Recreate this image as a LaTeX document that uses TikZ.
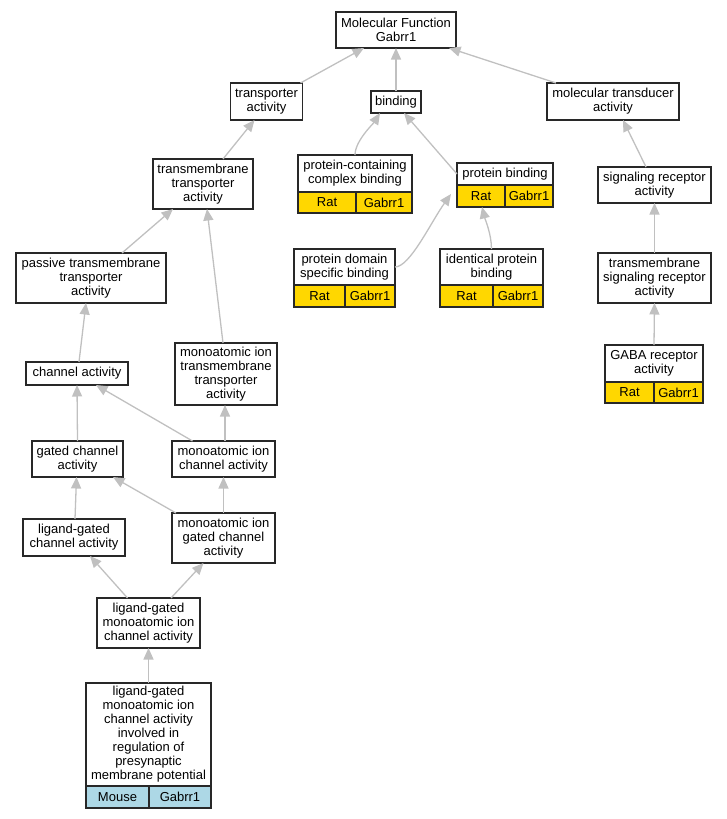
\documentclass[tikz,border=0pt]{standalone}
\usepackage{fontspec}
\setmainfont{Liberation Sans}
\usetikzlibrary{arrows.meta,calc}
\definecolor{edgegray}{RGB}{192,192,192}
\definecolor{gold}{RGB}{255,215,0}
\definecolor{lblue}{RGB}{173,216,230}
\definecolor{bord}{RGB}{40,40,40}
\begin{document}
\begin{tikzpicture}[x=1pt,y=-1pt,
  box/.style={draw=bord, line width=1.2pt, fill=white, align=center, inner sep=0pt, outer sep=0pt, font=\fontsize{13}{14}\selectfont},
  cell/.style={box, fill=gold},
  mcell/.style={box, fill=lblue},
  conn/.style={draw=edgegray, line width=1.3pt, -{Triangle[length=11.5pt,width=10pt]}},
]
\useasboundingbox (0,0) rectangle (727,819);

% nodes
\node[box, minimum width=120, minimum height=36] (mf) at (396,30) {Molecular Function\\Gabrr1};
\node[box, minimum width=72, minimum height=37] (ta) at (266.5,101.5) {transporter\\activity};
\node[box, minimum width=50, minimum height=22] (bind) at (396,102) {binding};
\node[box, minimum width=132, minimum height=37] (mta) at (613,101.5) {molecular transducer\\activity};

\node[box, minimum width=114, minimum height=37] (pccb) at (355,173.5) {protein-containing\\complex binding};
\node[cell, minimum width=58, minimum height=21, anchor=north west] (pccbs) at (pccb.south west) {Rat};
\node[cell, minimum width=56, minimum height=21, anchor=north east] (pccbg) at (pccb.south east) {Gabrr1};

\node[box, minimum width=96, minimum height=22] (pb) at (505,174) {protein binding};
\node[cell, minimum width=48, minimum height=22, anchor=north west] (pbs) at (pb.south west) {Rat};
\node[cell, minimum width=48, minimum height=22, anchor=north east] (pbg) at (pb.south east) {Gabrr1};

\node[box, minimum width=100, minimum height=50] (tta) at (203,184) {transmembrane\\transporter\\activity};
\node[box, minimum width=150, minimum height=50] (ptta) at (91,278) {passive transmembrane\\transporter\\activity};
\node[box, minimum width=102, minimum height=23] (ca) at (77,373.5) {channel activity};
\node[box, minimum width=102, minimum height=62] (mitta) at (226,374) {monoatomic ion\\transmembrane\\transporter\\activity};

\node[box, minimum width=101, minimum height=36] (pdsb) at (344.5,267) {protein domain\\specific binding};
\node[cell, minimum width=51, minimum height=22, anchor=north west] (pdsbs) at (pdsb.south west) {Rat};
\node[cell, minimum width=50, minimum height=22, anchor=north east] (pdsbg) at (pdsb.south east) {Gabrr1};

\node[box, minimum width=103, minimum height=36] (ipb) at (491.5,267) {identical protein\\binding};
\node[cell, minimum width=53, minimum height=22, anchor=north west] (ipbs) at (ipb.south west) {Rat};
\node[cell, minimum width=50, minimum height=22, anchor=north east] (ipbg) at (ipb.south east) {Gabrr1};

\node[box, minimum width=113, minimum height=36] (sra) at (654.5,185) {signaling receptor\\activity};
\node[box, minimum width=113, minimum height=50] (tsra) at (654.5,278) {transmembrane\\signaling receptor\\activity};
\node[box, minimum width=98, minimum height=37] (gaba) at (654,363.5) {GABA receptor\\activity};
\node[cell, minimum width=49, minimum height=21, anchor=north west] (gabas) at (gaba.south west) {Rat};
\node[cell, minimum width=49, minimum height=21, anchor=north east] (gabag) at (gaba.south east) {Gabrr1};

\node[box, minimum width=91, minimum height=36] (gca) at (77.5,459) {gated channel\\activity};
\node[box, minimum width=103, minimum height=36] (mica) at (223.5,459) {monoatomic ion\\channel activity};
\node[box, minimum width=102, minimum height=37] (lgca) at (74,537.5) {ligand-gated\\channel activity};
\node[box, minimum width=103, minimum height=50] (migca) at (223.5,538) {monoatomic ion\\gated channel\\activity};
\node[box, minimum width=103, minimum height=50] (lgmica) at (148.5,623) {ligand-gated\\monoatomic ion\\channel activity};

\node[box, minimum width=125, minimum height=103] (bot) at (148.5,734.5) {ligand-gated\\monoatomic ion\\channel activity\\involved in\\regulation of\\presynaptic\\membrane potential};
\node[mcell, minimum width=63, minimum height=22, anchor=north west] (bots) at (bot.south west) {Mouse};
\node[mcell, minimum width=62, minimum height=22, anchor=north east] (botg) at (bot.south east) {Gabrr1};

% connectors
\draw[conn] ($(ta.north east)+(-2,0)$) -- ($(mf.south)+(-32,0)$);
\draw[conn] (bind.north) -- (mf.south);
\draw[conn] ($(mta.north west)+(9,0)$) -- ($(mf.south east)+(-7,0)$);
\draw[conn] (pccb.north) .. controls +(0,-14) and +(-7,11) .. ($(bind.south)+(-16,0)$);
\draw[conn] (pb.west) -- ($(bind.south)+(8,0)$);
\draw[conn] ($(tta.north)+(20,0)$) -- ($(ta.south)+(-12,0)$);
\draw[conn] ($(ptta.north)+(31,0)$) -- ($(tta.south)+(-30,0)$);
\draw[conn] ($(mitta.north)+(-3,0)$) -- ($(tta.south)+(4,0)$);
\draw[conn] ($(ca.north)+(2,0)$) -- ($(ptta.south)+(-5,0)$);
\draw[conn] ($(mica.north)+(-31,0)$) -- ($(ca.south)+(19,0)$);
\draw[conn] ($(mica.north)+(1.5,0)$) -- ($(mitta.south)+(-1,0)$);
\draw[conn] (gca.north) -- (ca.south);
\draw[conn] ($(migca.north west)+(4,0)$) -- ($(gca.south east)+(-10,0)$);
\draw[conn] (migca.north) -- (mica.south);
\draw[conn] ($(lgca.north)+(1,0)$) -- ($(gca.south)+(-1,0)$);
\draw[conn] ($(lgmica.north)+(-21,0)$) -- ($(lgca.south)+(16,0)$);
\draw[conn] ($(lgmica.north)+(22.5,0)$) -- ($(migca.south)+(-20,0)$);
\draw[conn] (bot.north) -- (lgmica.south);
\draw[conn] (pdsb.east) .. controls +(15,0) and +(-20,28) .. ($(pbs.west)+(-6,-2)$);
\draw[conn] (ipb.north) .. controls +(0,-15) and +(3,12) .. ($(pbs.south)+(1,0)$);
\draw[conn] ($(sra.north)+(-8.5,0)$) -- ($(mta.south)+(10,0)$);
\draw[conn] (tsra.north) -- (sra.south);
\draw[conn] (gaba.north) -- (tsra.south);
\end{tikzpicture}
\end{document}
